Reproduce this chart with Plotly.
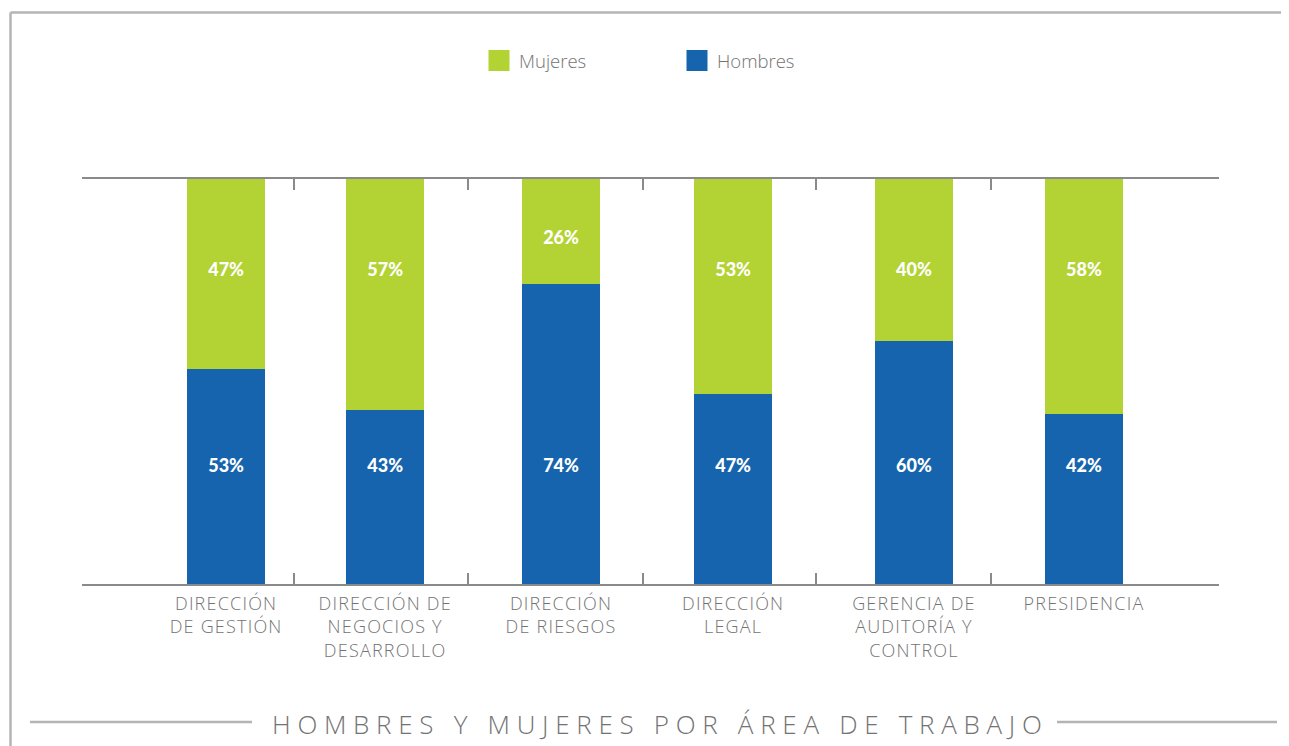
import plotly.graph_objects as go

categories = ["DIRECCIÓN<br>DE GESTIÓN", "DIRECCIÓN DE<br>NEGOCIOS Y<br>DESARROLLO",
              "DIRECCIÓN<br>DE RIESGOS", "DIRECCIÓN<br>LEGAL",
              "GERENCIA DE<br>AUDITORÍA Y<br>CONTROL", "PRESIDENCIA"]
hombres = [53, 43, 74, 47, 60, 42]
mujeres = [47, 57, 26, 53, 40, 58]
title_text = "HOMBRES Y MUJERES POR ÁREA DE TRABAJO"

GREEN = "#b3d334"
BLUE = "#1764ae"
GREY_TXT = "#737373"
FRAME = "#b4b4b4"
AXIS = "#8a8a8a"
FONT = "Open Sans"
NUM_FONT = "Lato"

OFF = 8  # page body margin
W, H = 1289, 746
PL, PT = 82, 179          # plot-area top-left on page
PW, PH = 1137, 405
L, T = PL - OFF, PT - OFF
R = W - L - PW
B = H - T - PH

def px2x(px):
    return (px - PL) / PW

def py2y(py):
    return (PT + PH - py) / PH

# layout positions of the bars along the x axis (uneven, as in the original)
bar_pos = [0, 0.927, 1.952, 2.955, 4.009, 5.0]
bar_w = 0.4545
xr = [-0.84, 5.787]
boundaries = [xr[0], 0.396, 1.41, 2.43, 3.44, 4.46, xr[1]]

def spaced_label(lbl, sp):
    return "<br>".join(f'<span style="letter-spacing:{sp}px">{ln}</span>' for ln in lbl.split("<br>"))

fig = go.Figure()
fig.add_trace(go.Bar(x=bar_pos, y=hombres, width=bar_w, marker=dict(color=BLUE, line=dict(width=0)),
                     showlegend=False, hoverinfo="skip"))
fig.add_trace(go.Bar(x=bar_pos, y=mujeres, width=bar_w, marker=dict(color=GREEN, line=dict(width=0)),
                     showlegend=False, hoverinfo="skip"))

# value labels
h_y = [28.7 for _ in hombres]
m_y = [(h + 100) / 2 - 2 if m < 30 else 77.2 for h, m in zip(hombres, mujeres)]
lab_font = dict(family=NUM_FONT, size=18, color="white", weight=900)
fig.add_trace(go.Scatter(x=bar_pos, y=h_y, mode="text", text=[f"{v}%" for v in hombres],
                         textfont=lab_font, showlegend=False, hoverinfo="skip"))
fig.add_trace(go.Scatter(x=bar_pos, y=m_y, mode="text", text=[f"{v}%" for v in mujeres],
                         textfont=lab_font, showlegend=False, hoverinfo="skip"))

# invisible trace so the category-label axis is drawn
fig.add_trace(go.Scatter(x=bar_pos, y=[0] * len(bar_pos), xaxis="x2", mode="markers",
                         marker=dict(opacity=0), showlegend=False, hoverinfo="skip"))

# legend entries
fig.add_trace(go.Scatter(x=[None], y=[None], mode="markers", name="Mujeres",
                         marker=dict(symbol="square", size=16, color=GREEN,
                                     line=dict(color=GREEN, width=5))))
fig.add_trace(go.Scatter(x=[None], y=[None], mode="markers", name="Hombres",
                         marker=dict(symbol="square", size=16, color=BLUE,
                                     line=dict(color=BLUE, width=5))))

shapes = [
    dict(type="line", xref="paper", yref="paper", x0=px2x(10.5), x1=px2x(1300), y0=py2y(12.5), y1=py2y(12.5),
         line=dict(color=FRAME, width=2.5)),
    dict(type="line", xref="paper", yref="paper", x0=px2x(10.5), x1=px2x(10.5), y0=py2y(12.5), y1=py2y(760),
         line=dict(color=FRAME, width=2.5)),
    dict(type="line", xref="paper", yref="paper", x0=px2x(30), x1=px2x(252), y0=py2y(722), y1=py2y(722),
         line=dict(color=FRAME, width=2.5)),
    dict(type="line", xref="paper", yref="paper", x0=px2x(1057), x1=px2x(1277), y0=py2y(722), y1=py2y(722),
         line=dict(color=FRAME, width=2.5)),
]

title_html = f'<span style="letter-spacing:6.7px">{title_text}</span>'

fig.update_layout(
    width=W, height=H,
    margin=dict(l=L, r=R, t=T, b=B),
    paper_bgcolor="white", plot_bgcolor="white",
    barmode="stack",
    font=dict(family=FONT, color=GREY_TXT),
    shapes=shapes,
    annotations=[dict(text=title_html, xref="paper", yref="paper", x=px2x(660), y=py2y(724),
                      xanchor="center", yanchor="middle", showarrow=False,
                      font=dict(family=FONT, size=26, color=GREY_TXT, weight=300))],
    legend=dict(orientation="h", x=px2x(479), y=py2y(61), xanchor="left", yanchor="middle",
                traceorder="normal", entrywidth=153, entrywidthmode="pixels",
                font=dict(family=FONT, size=18.5, color=GREY_TXT, weight=300),
                bgcolor="rgba(0,0,0,0)"),
    xaxis=dict(range=xr, tickvals=boundaries, ticks="inside", ticklen=11, tickwidth=1.5,
               tickcolor=AXIS, showline=True, linecolor=AXIS, linewidth=1.5, mirror="ticks",
               showticklabels=False, showgrid=False, zeroline=False, fixedrange=True),
    xaxis2=dict(range=xr, overlaying="x", anchor="y", side="bottom", tickvals=bar_pos,
                ticktext=[spaced_label(c, 1.2) for c in categories],
                ticks="", showline=False, showgrid=False, zeroline=False, fixedrange=True,
                ticklabelstandoff=7,
                tickfont=dict(family=FONT, size=18, color=GREY_TXT, weight=300)),
    yaxis=dict(range=[0, 100], showline=False, showgrid=False, zeroline=False, showticklabels=False,
               ticks="", fixedrange=True),
)

fig.write_html("out.html")
